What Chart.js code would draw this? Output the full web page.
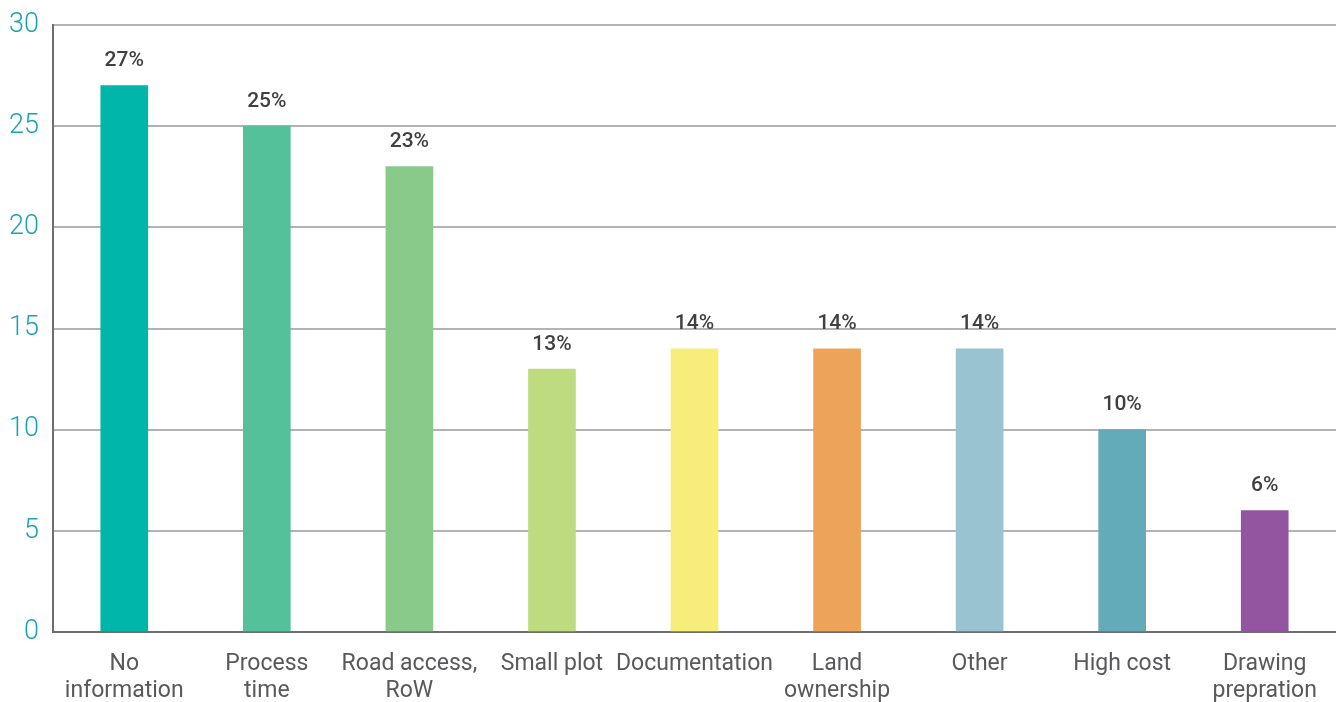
<!DOCTYPE html>
<html>
<head>
<meta charset="utf-8">
<script src="https://cdn.jsdelivr.net/npm/chart.js@4.4.1/dist/chart.umd.min.js"></script>
<style>
  html, body { margin: 0; padding: 0; background: #fff; }
  #wrap { width: 1336px; height: 702px; }
</style>
</head>
<body>
<div id="wrap"><canvas id="myChart"></canvas></div>
<script>
// categories (multi-line labels as arrays)
const categories = [
  ["No", "information"],
  ["Process", "time"],
  ["Road access,", "RoW"],
  "Small plot",
  "Documentation",
  ["Land", "ownership"],
  "Other",
  "High cost",
  ["Drawing", "prepration"]
];
const values = [27, 25, 23, 13, 14, 14, 14, 10, 6];
const barColors = ["#00b5a9", "#55c19b", "#89ca8b", "#bedb80", "#f6ed7b", "#eda458", "#9ac3d0", "#64abba", "#93559f"];
const yTicks = [0, 5, 10, 15, 20, 25, 30];

const FONT = "Roboto, 'DejaVu Sans', sans-serif";

// draws the "27%" style labels above bars
const valueLabels = {
  id: "valueLabels",
  afterDatasetsDraw(chart) {
    const ctx = chart.ctx;
    const meta = chart.getDatasetMeta(0);
    ctx.save();
    ctx.font = "500 21px " + FONT;
    ctx.fillStyle = "#404041";
    ctx.textAlign = "center";
    ctx.textBaseline = "bottom";
    meta.data.forEach((bar, i) => {
      ctx.fillText(values[i] + "%", bar.x, bar.y - 14);
    });
    ctx.restore();
  }
};

new Chart(document.getElementById("myChart"), {
  type: "bar",
  data: {
    labels: categories,
    datasets: [{
      data: values,
      backgroundColor: barColors,
      barThickness: 47,
      borderWidth: 0
    }]
  },
  options: {
    responsive: true,
    maintainAspectRatio: false,
    animation: false,
    layout: { padding: { top: 25, right: 0, left: 0, bottom: 0 } },
    plugins: { legend: { display: false }, tooltip: { enabled: false } },
    scales: {
      x: {
        grid: { display: false },
        border: { display: true, color: "#6d6e71", width: 2 },
        ticks: {
          color: "#58595b",
          font: { family: FONT, size: 23, lineHeight: 1.2 },
          padding: 10,
          maxRotation: 0,
          autoSkip: false
        },
        afterFit(scale) { scale.height = 70; }
      },
      y: {
        min: 0,
        max: 30,
        afterBuildTicks(scale) { scale.ticks = yTicks.map(v => ({ value: v })); },
        grid: { color: "#b1b3b6", lineWidth: 2, drawTicks: false },
        border: { display: true, color: "#6d6e71", width: 2 },
        ticks: {
          color: "#1ba3b3",
          font: { family: FONT, size: 27, weight: 300 },
          padding: 14
        },
        afterFit(scale) {
          scale.width = 53;
          scale.paddingTop = 0;
          scale.paddingBottom = 0;
        }
      }
    }
  },
  plugins: [valueLabels]
});
</script>
</body>
</html>
